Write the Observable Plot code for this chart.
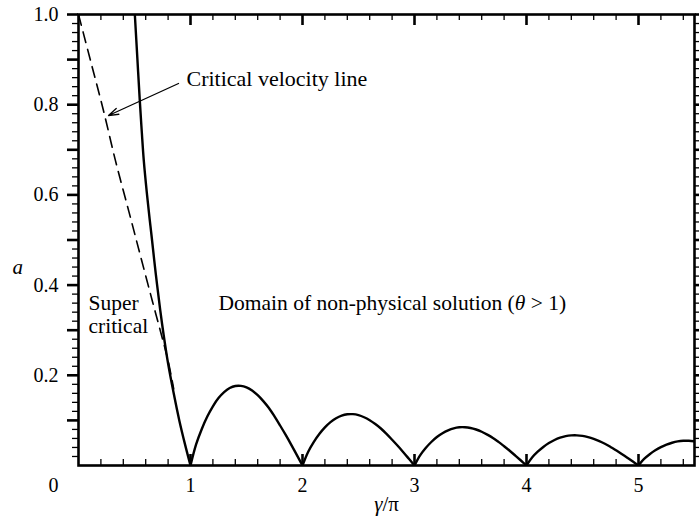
<!DOCTYPE html>
<html><head><meta charset="utf-8">
<script src="https://cdn.jsdelivr.net/npm/d3@7"></script>
<script src="https://cdn.jsdelivr.net/npm/@observablehq/plot@0.6"></script>
<style>body{margin:0;background:#fff} svg{display:block} svg text{font-family:'Liberation Serif',serif !important}</style>
</head><body><div id="chart"></div>
<script>
// Solid curve (boundary of physical solutions), one branch per arch
const branch0X = [0.503,0.525,0.547,0.565,0.583,0.61,0.635,0.652,0.69,0.73,0.76,0.8,0.85,0.9,0.95,1.0];
const branch0A = [1.0,0.905,0.81,0.74,0.676,0.605,0.547,0.51,0.425,0.344,0.29,0.226,0.16,0.1,0.048,0];
const branch1X = [1.0,1.05,1.1,1.15,1.2,1.25,1.3,1.35,1.4,1.45,1.5,1.55,1.6,1.65,1.7,1.75,1.8,1.85,1.9,1.95,2.0];
const branch1A = [0,0.0467,0.0805,0.1085,0.1313,0.1494,0.1627,0.1717,0.1763,0.1766,0.1733,0.1662,0.1559,0.1427,0.1274,0.1089,0.0887,0.0678,0.0458,0.0230,0];
const branch2X = [2.0,2.05,2.1,2.15,2.2,2.25,2.3,2.35,2.4,2.45,2.5,2.55,2.6,2.65,2.7,2.75,2.8,2.85,2.9,2.95,3.0];
const branch2A = [0,0.0301,0.0519,0.0699,0.0846,0.0962,0.1048,0.1106,0.1135,0.1138,0.1116,0.1070,0.1004,0.0919,0.0821,0.0701,0.0571,0.0437,0.0295,0.0148,0];
const branch3X = [3.0,3.05,3.1,3.15,3.2,3.25,3.3,3.35,3.4,3.45,3.5,3.55,3.6,3.65,3.7,3.75,3.8,3.85,3.9,3.95,4.0];
const branch3A = [0,0.0224,0.0387,0.0521,0.0631,0.0717,0.0781,0.0825,0.0847,0.0848,0.0832,0.0798,0.0749,0.0685,0.0612,0.0523,0.0426,0.0326,0.0220,0.0111,0];
const branch4X = [4.0,4.05,4.1,4.15,4.2,4.25,4.3,4.35,4.4,4.45,4.5,4.55,4.6,4.65,4.7,4.75,4.8,4.85,4.9,4.95,5.0];
const branch4A = [0,0.0177,0.0305,0.0411,0.0497,0.0565,0.0616,0.0650,0.0667,0.0669,0.0656,0.0629,0.0590,0.0540,0.0482,0.0412,0.0336,0.0257,0.0174,0.0087,0];
const branch5X = [5.0,5.05,5.1,5.15,5.2,5.25,5.3,5.35,5.4,5.45,5.5];
const branch5A = [0,0.0145,0.0250,0.0337,0.0408,0.0464,0.0505,0.0534,0.0548,0.0549,0.0538];

// Dashed critical velocity line
const critX = [0,0.107,0.22,0.33,0.45,0.55,0.658,0.74,0.8,0.85];
const critA = [1.0,0.898,0.79,0.676,0.563,0.468,0.366,0.29,0.232,0.17];

// Ticks
const xLabels = [1,2,3,4,5];
const xMajor = [1,2,3,4,5];
const xMinor = d3.range(1,28).map(i=>i/5).filter(v=>Math.abs(v-Math.round(v))>1e-6);
const yLabels = [0.2,0.4,0.6,0.8,1.0];
const yMajor = d3.range(1,11).map(i=>i/10);
const yMinor = d3.range(1,50).map(i=>i/50).filter(v=>Math.abs(v*10-Math.round(v*10))>1e-6);

// Annotations
const arrowFrom = [0.893, 0.847];
const arrowTo = [0.268, 0.776];

const branches = [[branch0X,branch0A],[branch1X,branch1A],[branch2X,branch2A],[branch3X,branch3A],[branch4X,branch4A],[branch5X,branch5A]];
const solid = branches.flatMap(([xs,as],k)=>xs.map((x,i)=>({x, a: as[i], k})));
const dashed = critX.map((x,i)=>({x, a: critA[i]}));

const serif = "Liberation Serif";
const blank = () => "";

const chart = Plot.plot({
  width: 699, height: 523,
  marginLeft: 78, marginRight: 5, marginTop: 14, marginBottom: 58,
  style: {fontFamily: "'Liberation Serif', serif", fontSize: "20px", color: "#000", background: "#fff", overflow: "visible"},
  x: {domain: [0, 5.5]},
  y: {domain: [0, 1]},
  marks: [
    Plot.line(dashed, {x: "x", y: "a", stroke: "#000", strokeWidth: 1.6, strokeDasharray: "11,7", curve: "catmull-rom", clip: true}),
    Plot.line(solid, {x: "x", y: "a", z: "k", stroke: "#000", strokeWidth: 2.4, curve: "catmull-rom", clip: true}),
    // inward ticks bottom & top
    Plot.tickX(xMinor, {x: d=>d, insetTop: 445, stroke: "#000", strokeWidth: 1.3}),
    Plot.tickX(xMajor, {x: d=>d, insetTop: 440, stroke: "#000", strokeWidth: 2.6}),
    Plot.tickX(xMinor, {x: d=>d, insetBottom: 445, stroke: "#000", strokeWidth: 1.3}),
    Plot.tickX(xMajor, {x: d=>d, insetBottom: 440, stroke: "#000", strokeWidth: 2.6}),
    // outward ticks left & right
    Plot.axisY(yMinor, {anchor: "left", tickSize: 6, tickFormat: blank, label: null, strokeWidth: 1.3}),
    Plot.axisY(yMajor, {anchor: "left", tickSize: 11, tickFormat: blank, label: null, strokeWidth: 2.6}),
    Plot.axisY(yLabels, {anchor: "left", tickSize: 0, tickPadding: 20, tickFormat: d3.format(".1f"), label: null, fontSize: 20, fontFamily: serif}),
    Plot.axisY(yMinor, {anchor: "right", tickSize: 5, tickFormat: blank, label: null, strokeWidth: 1.3}),
    Plot.axisY(yMajor, {anchor: "right", tickSize: 5, tickFormat: blank, label: null, strokeWidth: 2.6}),
    Plot.axisX(xLabels, {anchor: "bottom", tickSize: 0, tickPadding: 12, label: null, fontSize: 20, fontFamily: serif}),
    Plot.axisX([0], {anchor: "bottom", tickSize: 0, tickPadding: 12, label: null, fontSize: 20, fontFamily: serif, dx: -25}),
    Plot.frame({stroke: "#000", strokeWidth: 2.6}),
    // axis titles
    Plot.text(["γ/π"], {frameAnchor: "bottom", dy: 45, fontSize: 21, fontFamily: serif}),
    Plot.text(["a"], {frameAnchor: "left", y: 0.44, dx: -66, fontSize: 21, fontStyle: "italic", fontFamily: serif}),
    // annotations
    Plot.arrow([0], {x1: ()=>arrowFrom[0], y1: ()=>arrowFrom[1], x2: ()=>arrowTo[0], y2: ()=>arrowTo[1], stroke: "#000", strokeWidth: 1.3, headLength: 12, headAngle: 35}),
    Plot.text(["Critical velocity line"], {x: 0.964, y: 0.856, textAnchor: "start", fontSize: 22, fontFamily: serif}),
    Plot.text(["Super"], {x: 0.089, y: 0.361, textAnchor: "start", fontSize: 21.5, fontFamily: serif}),
    Plot.text(["critical"], {x: 0.089, y: 0.309, textAnchor: "start", fontSize: 21.5, fontFamily: serif}),
    Plot.text(["Domain of non-physical solution (θ > 1)"], {x: 1.25, y: 0.361, textAnchor: "start", fontSize: 21.5, fontFamily: serif})
  ]
});

d3.select(chart).selectAll("text").each(function(){
  const t = this.textContent;
  if (t === "γ/π") {
    this.textContent = "";
    d3.select(this).append("tspan").attr("font-style","italic").text("γ");
    d3.select(this).append("tspan").text("/π");
  } else if (t.includes("θ")) {
    const [pre, post] = t.split("θ");
    this.textContent = "";
    d3.select(this).append("tspan").text(pre);
    d3.select(this).append("tspan").attr("font-style","italic").text("θ");
    d3.select(this).append("tspan").text(post);
  }
});
d3.select(chart).selectAll("text").attr("font-family", "Liberation Serif");
document.getElementById("chart").appendChild(chart);
</script>
</body></html>
